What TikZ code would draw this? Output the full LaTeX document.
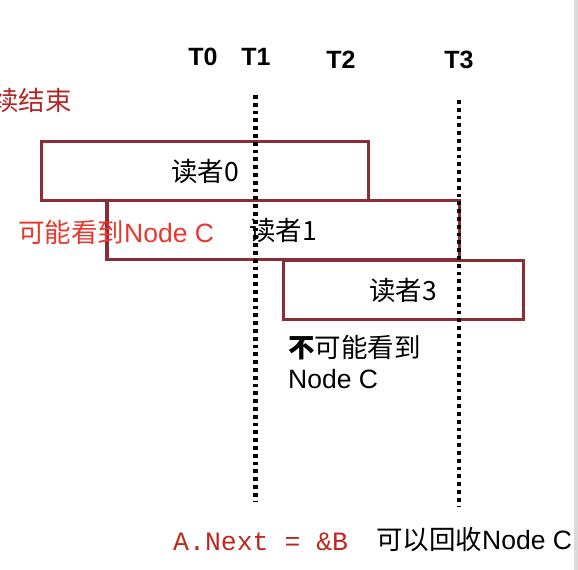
\documentclass[tikz,border=0pt]{standalone}
\usepackage{fontspec}
\setmainfont{Liberation Sans}
\setmonofont{Liberation Mono}
\newfontfamily\cjk{Noto Sans CJK SC}
\usetikzlibrary{positioning}
\definecolor{boxred}{RGB}{139,44,54}
\definecolor{darkred}{RGB}{178,40,38}
\definecolor{brightred}{RGB}{232,56,47}
\definecolor{codered}{RGB}{190,40,30}
\definecolor{edgegray}{RGB}{218,218,218}

\begin{document}
\begin{tikzpicture}[x=1bp, y=1bp,
    txt/.style={inner sep=0pt, font=\fontsize{26.5bp}{30bp}\selectfont},
    tlabel/.style={inner sep=0pt, font=\fontsize{25bp}{30bp}\selectfont\bfseries},
    reader/.style={draw=boxred, line width=3bp, inner sep=0pt, minimum height=59bp,
        font=\fontsize{26.5bp}{30bp}\selectfont\cjk},
    timeline/.style={line width=4.4bp, dash pattern=on 3.9bp off 3.9bp}]
    \useasboundingbox (0,0) rectangle (578,570);
    % Window edge
    \fill[edgegray] (573.5,0) rectangle (578,570);

    % Time labels
    \node[tlabel] (t0) at (203,513) {T0};
    \node[tlabel] (t1) at (256,513) {T1};
    \node[tlabel] (t2) at (341,510.5) {T2};
    \node[tlabel] (t3) at (459,510.5) {T3};

    % Time lines
    \coordinate (t1top) at (255.5,475);
    \coordinate (t1bot) at (255.5,68);
    \coordinate (t3top) at (459,470);
    \coordinate (t3bot) at (459,63);

    % Readers
    \node[reader, minimum width=326bp] (r0) at (205,398.5) {读者0};
    \node[reader, minimum width=352bp] (r1) at (283,339.5) {读者1};
    \node[reader, minimum width=240bp] (r3) at (403,279.5) {读者3};

    \draw[timeline] (t1top) -- (t1bot);
    \draw[timeline] (t3top) -- (t3bot);

    % Notes
    \node[txt, anchor=east, text=darkred] (done) at (72,470) {\cjk 续结束};
    \node[txt, anchor=west, text=brightred] (maysee) at (18,338) {{\cjk 可能看到}Node C};
    \node[txt, anchor=west] (nosee) at (288,222) {{\cjk\bfseries 不}{\cjk 可能看到}};
    \node[txt, below=9bp of nosee.south west, anchor=north west] (nodec) {Node C};
    \node[txt, anchor=west, text=codered, font=\fontsize{26.5bp}{30bp}\selectfont\ttfamily] (code) at (173,28) {A.Next = \&B};
    \node[txt, anchor=west] (free) at (376,30) {{\cjk 可以回收}Node C};
\end{tikzpicture}
\end{document}
